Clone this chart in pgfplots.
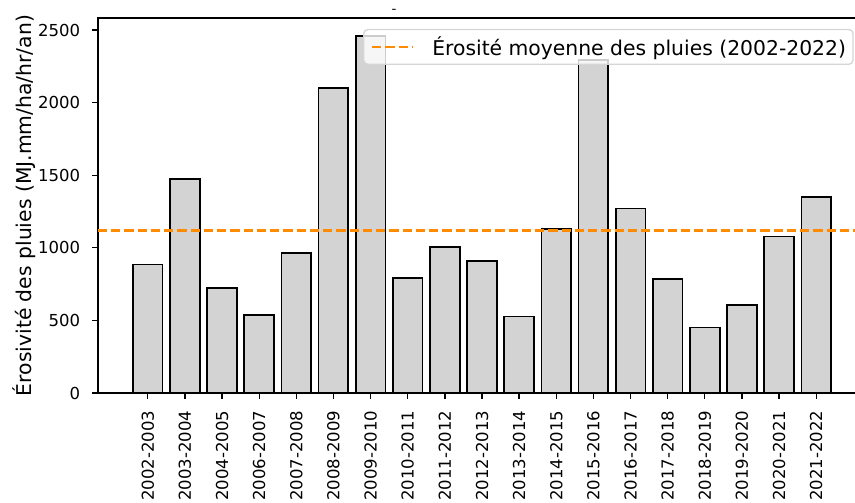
\documentclass[border=0pt]{standalone}
\usepackage{fontspec}
\setmainfont{DejaVu Sans}
\usepackage{pgfplots}
\pgfplotsset{compat=1.18}
\definecolor{barfill}{HTML}{D3D3D3}
\definecolor{meanorange}{HTML}{FF8C00}
\definecolor{legframe}{HTML}{D6D6D6}

\begin{document}
\begin{tikzpicture}
\def\u{0.6pt}
% the reference is cropped on the right
\path[use as bounding box] (-98*\u,-109*\u) rectangle (757*\u,393*\u);
\clip (-98*\u,-109*\u) rectangle (757*\u,393*\u);
\begin{axis}[
    scale only axis,
    width=460.8pt, height=225pt,
    xmin=-1.34, xmax=19.34,
    ymin=0, ymax=2583,
    axis line style={line width=0.8pt},
    tick pos=left, tick align=outside,
    major tick length=3.5pt,
    every tick/.style={black, line width=0.8pt},
    xtick={0,...,18},
    xticklabels={2002-2003,2003-2004,2004-2005,2006-2007,2007-2008,2008-2009,
      2009-2010,2010-2011,2011-2012,2012-2013,2013-2014,2014-2015,2015-2016,
      2016-2017,2017-2018,2018-2019,2019-2020,2020-2021,2021-2022},
    ytick={0,500,...,2500},
    xticklabel style={rotate=90, anchor=east, inner sep=0pt, font=\fontsize{9.9}{12}\selectfont},
    yticklabel style={inner sep=0pt, font=\fontsize{9.9}{12}\selectfont},
    xticklabel shift=7pt, yticklabel shift=7pt,
    /pgf/number format/assume math mode=true,
    /pgf/number format/1000 sep={},
    scaled y ticks=false,
    ylabel={Érosivité des pluies (MJ.mm/ha/hr/an)},
    every axis y label/.style={at={(axis description cs:-0.0964,0.5)}, rotate=90, anchor=center, font=\fontsize{12.2}{14}\selectfont},
    legend image code/.code={\draw[#1] (0pt,0pt) -- (24.6pt,0pt);},
    legend style={at={(0.984,0.971)}, anchor=north east,
      draw=legframe, line width=0.8pt, fill=white, fill opacity=0.8, text opacity=1,
      rounded corners=2.4pt, inner xsep=4.2pt, inner ysep=4pt,
      font=\fontsize{12.2}{14}\selectfont,
      nodes={inner sep=0pt},
      /tikz/every odd column/.append style={column sep=10.8pt}},
]
\addplot[ybar, bar width=0.8, bar shift=0pt, fill=barfill, draw=black, line width=1pt, forget plot]
coordinates {
  (0,886) (1,1476) (2,721) (3,537) (4,964) (5,2100) (6,2459) (7,790)
  (8,1005) (9,909) (10,526) (11,1129) (12,2293) (13,1272) (14,783)
  (15,452) (16,606) (17,1079) (18,1348)
};
\addplot[meanorange, line width=1.5pt, dash pattern=on 5.55pt off 2.4pt]
coordinates {(-1.34,1121) (19.34,1121)};
\addlegendentry{Érosité moyenne des pluies (2002-2022)}
\end{axis}
\node[font=\fontsize{8}{9}\selectfont, inner sep=0pt] at (296*\u,382*\u) {-};
\end{tikzpicture}
\end{document}
